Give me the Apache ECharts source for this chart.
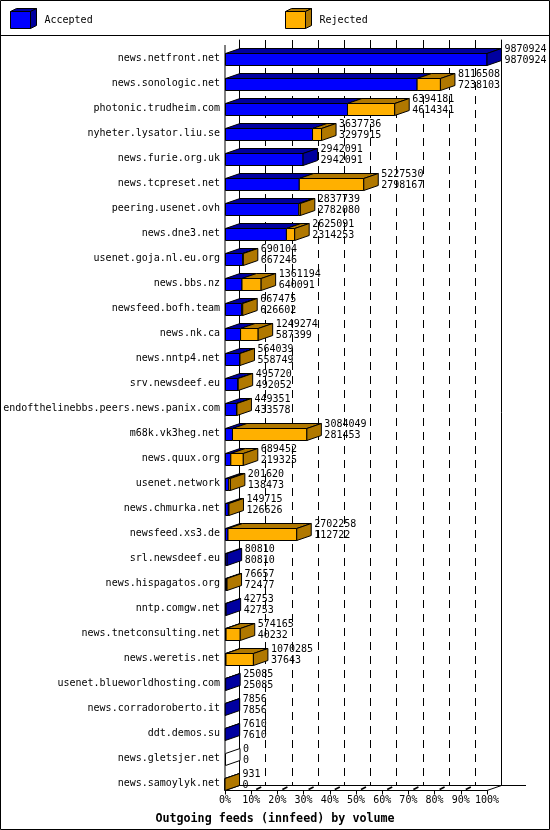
<!DOCTYPE html>
<html><head><meta charset="utf-8">
<script src="https://cdn.jsdelivr.net/npm/echarts@6/dist/echarts.min.js"></script>
<style>html,body{margin:0;padding:0;background:#fff}#c{width:550px;height:830px}</style>
</head><body><div id="c"></div>
<script>
const categories = [
  'news.netfront.net','news.sonologic.net','photonic.trudheim.com','nyheter.lysator.liu.se',
  'news.furie.org.uk','news.tcpreset.net','peering.usenet.ovh','news.dne3.net',
  'usenet.goja.nl.eu.org','news.bbs.nz','newsfeed.bofh.team','news.nk.ca',
  'news.nntp4.net','srv.newsdeef.eu','endofthelinebbs.peers.news.panix.com','m68k.vk3heg.net',
  'news.quux.org','usenet.network','news.chmurka.net','newsfeed.xs3.de',
  'srl.newsdeef.eu','news.hispagatos.org','nntp.comgw.net','news.tnetconsulting.net',
  'news.weretis.net','usenet.blueworldhosting.com','news.corradoroberto.it','ddt.demos.su',
  'news.gletsjer.net','news.samoylyk.net'
];
const offered = [
  9870924, 8116508, 6394181, 3637736,
  2942091, 5227530, 2837739, 2625091,
  690104, 1361194, 667475, 1249274,
  564039, 495720, 449351, 3084049,
  689452, 201620, 149715, 2702258,
  80810, 76657, 42753, 574165,
  1070285, 25085, 7856, 7610,
  0, 931
];
const accepted = [
  9870924, 7238103, 4614341, 3297915,
  2942091, 2798167, 2782080, 2314253,
  667246, 640091, 626602, 587399,
  558749, 492052, 433578, 281453,
  219325, 138473, 126626, 112722,
  80810, 72477, 42753, 40232,
  37643, 25085, 7856, 7610,
  0, 0
];
const seriesNames = ['Accepted', 'Rejected'];
const tickLabels = ['0%','10%','20%','30%','40%','50%','60%','70%','80%','90%','100%'];
const chartTitle = 'Outgoing feeds (innfeed) by volume';

const MAXV = Math.max(...offered);

const FONT = 'DejaVu Sans Mono';
const BLUE = '#0000ff', BLUE_D = '#0000a0', GOLD = '#ffb000', GOLD_D = '#b07800';
const DX = 14.5, DY = 5, FACE_H = 12;
const FRONT = { left: 225, width: 262, top: 46.3, height: 750, floorY: 790.5, wallTop: 45 };
const BACK = { left: 239.5, top: 40, width: 262, height: 745.5 };

function renderBar(params, api) {
  const i = api.value(2);
  const acc = api.value(0), tot = api.value(1);
  const c0 = api.coord([0, i]);
  const cA = api.coord([acc, i]);
  const cT = api.coord([tot, i]);
  const yc = c0[1];
  const yT = Math.round(yc - FACE_H / 2) + 0.5;
  const yB = yT + FACE_H;
  const xL = Math.round(c0[0]) + 0.5;
  const segs = [
    { x0: xL, x1: cA[0], fill: BLUE, dark: BLUE_D, v: acc },
    { x0: cA[0], x1: cT[0], fill: GOLD, dark: GOLD_D, v: tot - acc }
  ];
  const children = [];
  let sideFill = '#ffffff';
  segs.forEach(s => {
    if (s.v <= 0) return;
    sideFill = s.dark;
    children.push({
      type: 'polygon',
      shape: { points: [[s.x0, yT], [s.x1, yT], [s.x1 + DX, yT - DY], [s.x0 + DX, yT - DY]] },
      style: { fill: s.dark, stroke: '#000', lineWidth: 1 }
    });
    children.push({
      type: 'rect',
      shape: { x: s.x0, y: yT, width: Math.max(s.x1 - s.x0, 0), height: FACE_H },
      style: { fill: s.fill, stroke: '#000', lineWidth: 1 }
    });
  });
  const xe = tot > 0 ? cT[0] : xL;
  children.push({
    type: 'polygon',
    shape: { points: [[xe, yT], [xe + DX, yT - DY], [xe + DX, yB - DY], [xe, yB]] },
    style: { fill: sideFill, stroke: '#000', lineWidth: 1 }
  });
  children.push({
    type: 'text',
    style: {
      text: tot + '\n' + acc,
      x: xe + DX + 3, y: yc - 4,
      align: 'left', verticalAlign: 'middle',
      fill: '#000', font: '10px "' + FONT + '"', lineHeight: 11
    }
  });
  return { type: 'group', children };
}

const chart = echarts.init(document.getElementById('c'), null, { renderer: 'canvas' });

const option = {
  animation: false,
  backgroundColor: '#fff',
  title: {
    text: chartTitle, left: 'center', top: 808,
    textStyle: { fontFamily: FONT, fontSize: 11.7, fontWeight: 'bold', color: '#000' }
  },
  grid: [
    { left: FRONT.left, top: FRONT.top, width: FRONT.width, height: FRONT.height, outerBoundsMode: 'none' },
    { left: BACK.left, top: BACK.top, width: BACK.width, height: BACK.height, outerBoundsMode: 'none' }
  ],
  xAxis: [
    {
      gridIndex: 0, type: 'value', min: 0, max: MAXV, interval: MAXV / 10,
      offset: FRONT.floorY - (FRONT.top + FRONT.height),
      axisLine: { show: true, onZero: false, lineStyle: { color: '#000', width: 1 } },
      axisTick: { show: true, length: 4, inside: false, lineStyle: { color: '#000' } },
      axisLabel: {
        show: true, margin: 5, color: '#000', fontFamily: FONT, fontSize: 10,
        formatter: (v, idx) => tickLabels[idx]
      },
      splitLine: { show: false }
    },
    {
      gridIndex: 1, type: 'value', min: 0, max: MAXV, interval: MAXV / 10,
      axisLine: { show: true, onZero: false, lineStyle: { color: '#000', width: 1 } },
      axisTick: { show: false }, axisLabel: { show: false },
      splitLine: { show: true, lineStyle: { color: '#000', width: 1, type: [8, 6] } }
    }
  ],
  yAxis: [
    {
      gridIndex: 0, type: 'category', data: categories, inverse: true,
      axisLine: { show: false }, axisTick: { show: false },
      axisLabel: { show: true, margin: 5, color: '#000', fontFamily: FONT, fontSize: 10, interval: 0 },
      splitLine: { show: false }
    },
    {
      gridIndex: 1, type: 'value', position: 'left', min: 0, max: 1,
      axisLine: { show: true, onZero: false, lineStyle: { color: '#000', width: 1 } },
      axisTick: { show: false }, axisLabel: { show: false }, splitLine: { show: false }
    },
    {
      gridIndex: 1, type: 'value', position: 'right', min: 0, max: 1,
      axisLine: { show: true, onZero: false, lineStyle: { color: '#000', width: 1 } },
      axisTick: { show: false }, axisLabel: { show: false }, splitLine: { show: false }
    }
  ],
  series: [
    {
      name: seriesNames.join(' / '),
      type: 'custom',
      xAxisIndex: 0, yAxisIndex: 0,
      renderItem: renderBar,
      encode: { x: [0, 1], y: 2 },
      data: categories.map((c, i) => [accepted[i], offered[i], i]),
      z: 5
    }
  ]
};
chart.setOption(option);

// Frame decorations (legend, border, 3D floor), positioned from the axes
const g = [];
const W = 550, H = 830;
g.push({ type: 'rect', shape: { x: 0.5, y: 0.5, width: W - 1, height: H - 1 }, style: { fill: 'none', stroke: '#000', lineWidth: 1 }, z: 100 });
g.push({ type: 'line', shape: { x1: 0, y1: 35.5, x2: W, y2: 35.5 }, style: { stroke: '#000', lineWidth: 1 }, z: 100 });

function cube(x, y, fill, dark) {
  const w = 20, h = 17, dx = 6, dy = 3;
  g.push({ type: 'polygon', shape: { points: [[x, y], [x + w, y], [x + w + dx, y - dy], [x + dx, y - dy]] }, style: { fill: dark, stroke: '#000', lineWidth: 1 }, z: 100 });
  g.push({ type: 'polygon', shape: { points: [[x + w, y], [x + w + dx, y - dy], [x + w + dx, y + h - dy], [x + w, y + h]] }, style: { fill: dark, stroke: '#000', lineWidth: 1 }, z: 100 });
  g.push({ type: 'rect', shape: { x: x, y: y, width: w, height: h }, style: { fill: fill, stroke: '#000', lineWidth: 1 }, z: 100 });
}
cube(10.5, 11.5, BLUE, BLUE_D);
g.push({ type: 'text', style: { text: seriesNames[0], x: 44.5, y: 20.5, verticalAlign: 'middle', fill: '#000', font: '10px "' + FONT + '"' }, z: 100 });
cube(285.5, 11.5, GOLD, GOLD_D);
g.push({ type: 'text', style: { text: seriesNames[1], x: 319.5, y: 20.5, verticalAlign: 'middle', fill: '#000', font: '10px "' + FONT + '"' }, z: 100 });

const fy = FRONT.floorY;
const xFront0 = chart.convertToPixel({ xAxisIndex: 0 }, 0);
const xFront1 = chart.convertToPixel({ xAxisIndex: 0 }, MAXV);
const xBack1 = chart.convertToPixel({ xAxisIndex: 1 }, MAXV);
const by = BACK.top + BACK.height;
// front-left wall edge
g.push({ type: 'line', shape: { x1: xFront0, y1: FRONT.wallTop, x2: xFront0, y2: fy }, style: { stroke: '#000', lineWidth: 1 }, z: 1 });
// floor slants and back extension
g.push({ type: 'line', shape: { x1: xFront0, y1: fy, x2: xFront0 + DX, y2: by }, style: { stroke: '#000', lineWidth: 1 }, z: 1 });
g.push({ type: 'line', shape: { x1: xFront1, y1: fy, x2: xBack1, y2: by }, style: { stroke: '#000', lineWidth: 1 }, z: 1 });
g.push({ type: 'line', shape: { x1: xBack1, y1: by, x2: xBack1 + 24.5, y2: by }, style: { stroke: '#000', lineWidth: 1 }, z: 1 });
// small 3D tick marks on floor
for (let k = 1; k < tickLabels.length - 1; k++) {
  const xk = chart.convertToPixel({ xAxisIndex: 0 }, MAXV * k / 10);
  g.push({ type: 'line', shape: { x1: xk + 5, y1: fy - 1, x2: xk + 10, y2: fy - 3.5 }, style: { stroke: '#000', lineWidth: 1.6 }, z: 1 });
}
chart.setOption({ graphic: { elements: g } });
</script>
</body></html>
